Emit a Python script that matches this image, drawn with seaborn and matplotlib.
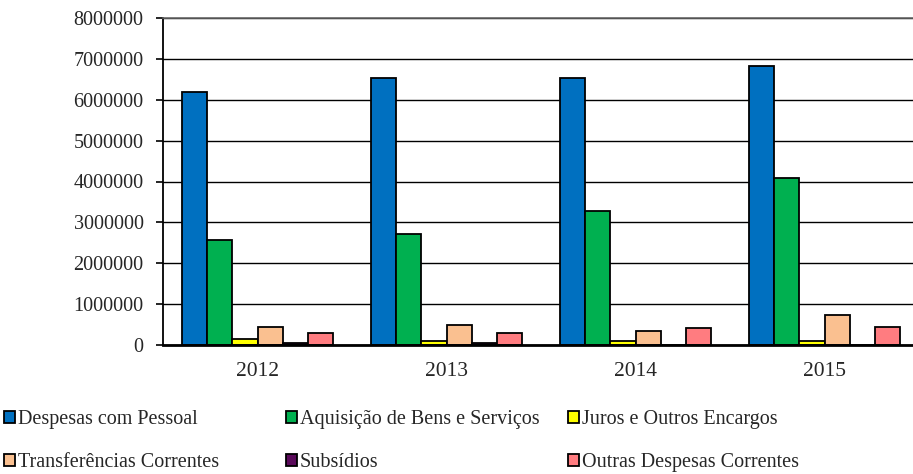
import numpy as np
import pandas as pd
import matplotlib
matplotlib.use('Agg')
import matplotlib.pyplot as plt
import seaborn as sns

anos = ['2012', '2013', '2014', '2015']
categorias = [
    'Despesas com Pessoal',
    'Aquisição de Bens e Serviços',
    'Juros e Outros Encargos',
    'Transferências Correntes',
    'Subsídios',
    'Outras Despesas Correntes',
]
despesas_pessoal = [6200000, 6540000, 6540000, 6830000]
aquisicao_bens = [2580000, 2720000, 3270000, 4090000]
juros_encargos = [150000, 90000, 90000, 100000]
transferencias = [450000, 500000, 350000, 740000]
subsidios = [60000, 60000, 0, 0]
outras_despesas = [290000, 300000, 410000, 450000]
cores = ['#0070C0', '#00B050', '#FFFF00', '#FAC090', '#5A0A5A', '#FF7C80']

valores = [despesas_pessoal, aquisicao_bens, juros_encargos,
           transferencias, subsidios, outras_despesas]
df = pd.DataFrame({
    'ano': np.tile(anos, len(categorias)),
    'categoria': np.repeat(categorias, len(anos)),
    'valor': np.concatenate(valores),
})

sns.set_style('white')
plt.rcParams['font.family'] = ['Liberation Serif', 'DejaVu Serif']

W, H = 913, 474
fig = plt.figure(figsize=(W / 100, H / 100), dpi=100)
ax = fig.add_axes([163 / W, 1 - 345 / H, 756 / W, 327 / H])

ax.yaxis.grid(True, color='black', linewidth=1.0)
ax.set_axisbelow(True)

sns.barplot(data=df, x='ano', y='valor', hue='categoria', hue_order=categorias,
            palette=cores, edgecolor='black', linewidth=1.3, width=0.8,
            errorbar=None, saturation=1, ax=ax)

handles, labels = ax.get_legend_handles_labels()
ax.get_legend().remove()

ax.set_xlim(-0.5, 3.5)
ax.set_ylim(0, 8000000)
ax.set_yticks(np.arange(0, 8000001, 1000000))
ax.set_yticklabels([str(v) for v in range(0, 8000001, 1000000)])
ax.set_xlabel('')
ax.set_ylabel('')

ax.set_xticks([-0.5, 0.5, 1.5, 2.5], minor=True)
ax.tick_params(axis='x', which='major', length=0, pad=12, labelsize=15.5)
ax.tick_params(axis='x', which='minor', length=5, width=1.2, direction='out', color='black')
ax.tick_params(axis='y', which='major', length=5, width=1.2, direction='out',
               color='black', pad=9, labelsize=14.5, left=True)

for side in ['left', 'bottom']:
    ax.spines[side].set_color('black')
ax.spines['left'].set_linewidth(1.3)
ax.spines['bottom'].set_linewidth(2.0)
ax.spines['top'].set_color('#666666')
ax.spines['top'].set_linewidth(1.2)
ax.spines['right'].set_visible(False)

# legenda em 3 colunas, 2 linhas
colunas_x = [4, 286, 568]
for i, x0 in enumerate(colunas_x):
    idx = [i, i + 3]
    fig.legend([handles[j] for j in idx], [labels[j] for j in idx],
               loc='upper left', bbox_to_anchor=(x0 / W, 1 - 410 / H),
               frameon=False, fontsize=14.5, handlelength=0.55, handleheight=0.55,
               handletextpad=0.15, labelspacing=1.2, borderpad=0.0,
               borderaxespad=0.0)

fig.savefig('out.png', dpi=100)
